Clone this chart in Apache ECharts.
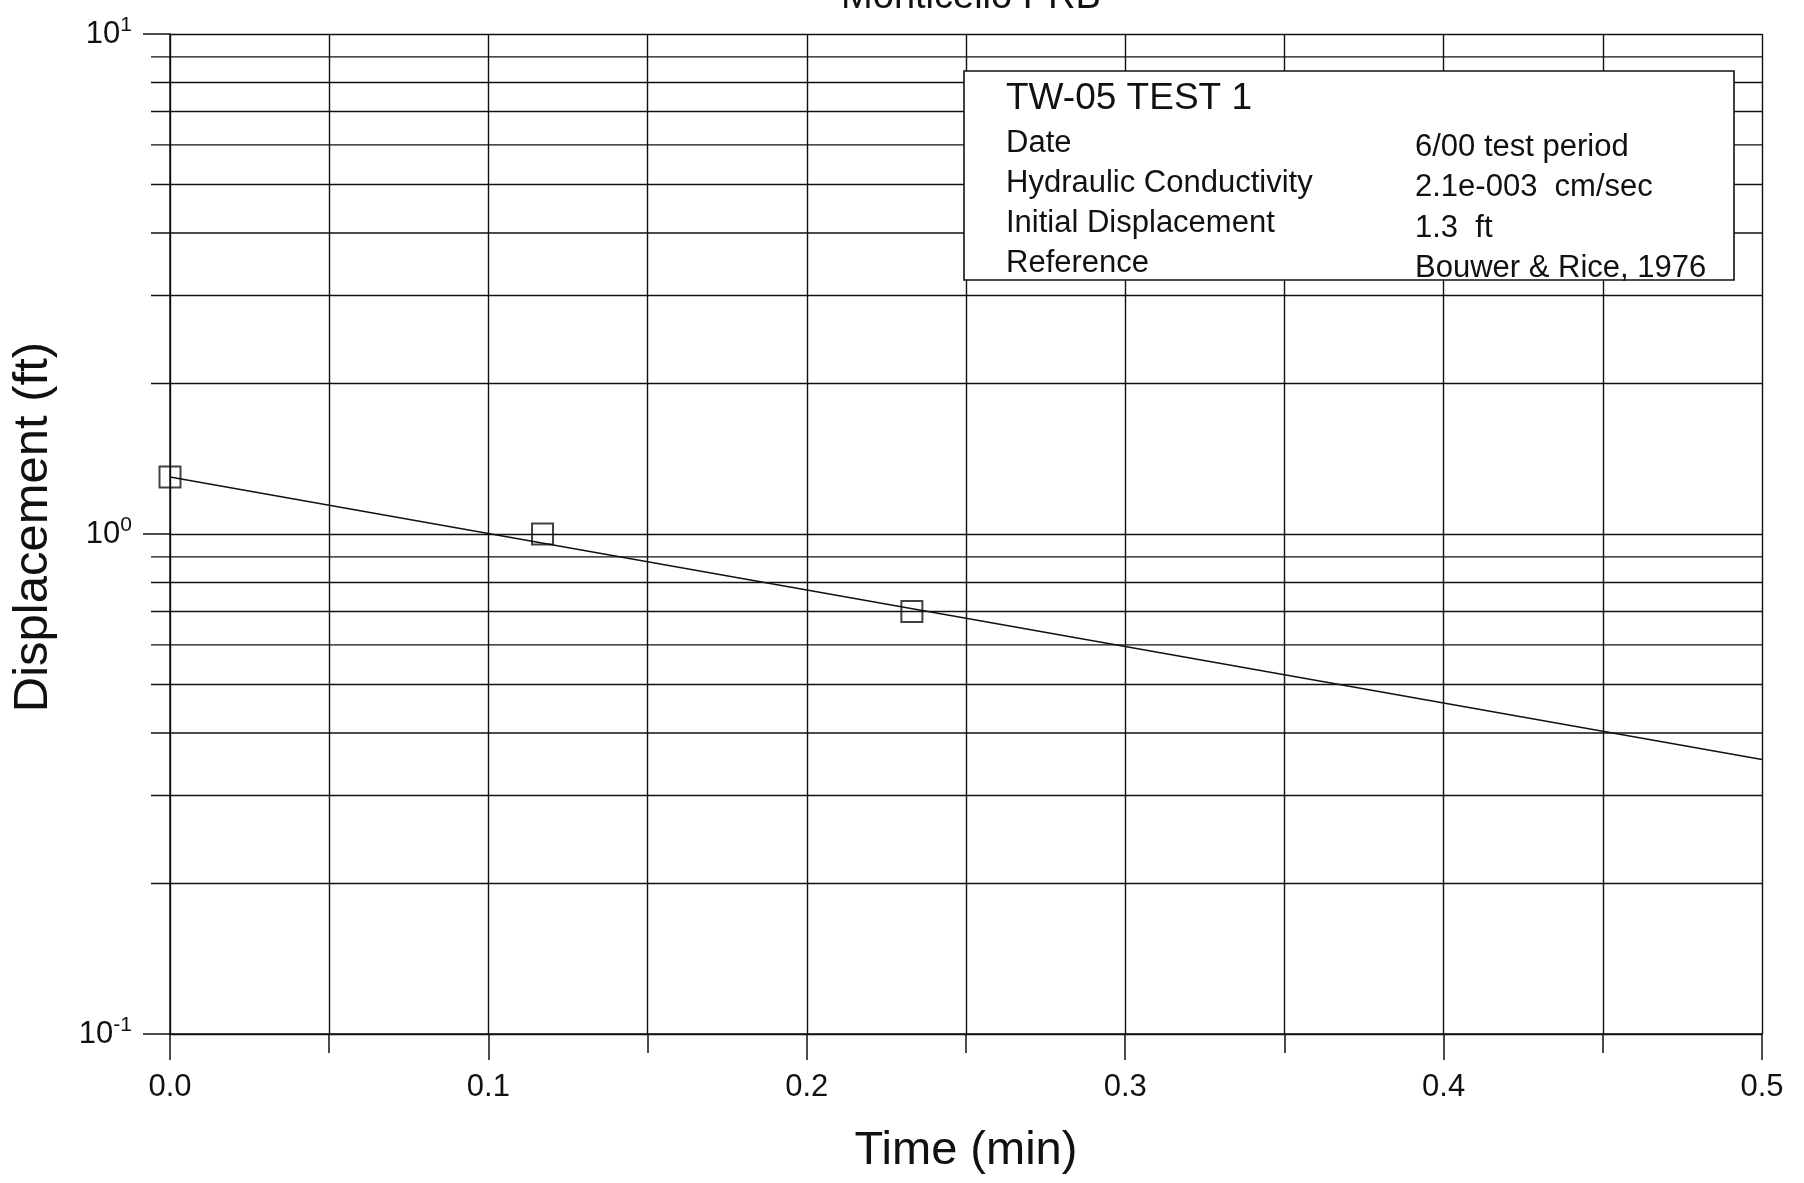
<!DOCTYPE html>
<html>
<head>
<meta charset="utf-8">
<title>TW-05 TEST 1 - Monticello PRB</title>
<script src="https://cdn.jsdelivr.net/npm/echarts@6/dist/echarts.min.js"></script>
<style>
  html, body { margin: 0; padding: 0; background: #fff; }
  #chart { width: 1804px; height: 1183px; }
</style>
</head>
<body>
<div id="chart"></div>
<script>
// Slug-test recovery: observed displacement vs. elapsed time
const timeMin = [0, 0.117, 0.233];
const displacementFt = [1.3, 1.0, 0.70];

// Bouwer & Rice straight-line fit (semi-log)
const fitTime = [0, 0.5];
const fitDisplacement = [1.3, 0.354];

// Intermediate log gridlines (2..9 within each decade)
const minorLevels = [0.2, 0.3, 0.4, 0.5, 0.6, 0.7, 0.8, 0.9, 2, 3, 4, 5, 6, 7, 8, 9];

// Info box rows
const infoTitle = 'TW-05 TEST 1';
const infoLabels = ['Date', 'Hydraulic Conductivity', 'Initial Displacement', 'Reference'];
const infoValues = ['6/00 test period', '2.1e-003  cm/sec', '1.3  ft', 'Bouwer & Rice, 1976'];

const FONT = "'Liberation Sans', Arial, sans-serif";
const INK = '#111';

const chart = echarts.init(document.getElementById('chart'));

const infoChildren = [
  { type: 'rect', z: 100, shape: { x: 0, y: 0, width: 770, height: 209 },
    style: { fill: '#fff', stroke: INK, lineWidth: 1.6 } },
  { type: 'text', z: 101, x: 42, y: 28,
    style: { text: infoTitle, font: '37px ' + FONT, fill: INK, textVerticalAlign: 'middle' } }
];
infoLabels.forEach((t, i) => {
  infoChildren.push({ type: 'text', z: 101, x: 42, y: 72.5 + i * 40,
    style: { text: t, font: '31px ' + FONT, fill: INK, textVerticalAlign: 'middle' } });
  infoChildren.push({ type: 'text', z: 101, x: 451, y: 76 + i * 40.5,
    style: { text: infoValues[i], font: '31px ' + FONT, fill: INK, textVerticalAlign: 'middle' } });
});

chart.setOption({
  backgroundColor: '#fff',
  animation: false,
  title: {
    text: 'Monticello PRB',
    left: 966, textAlign: 'center', top: -26,
    textStyle: { fontFamily: FONT, fontSize: 38, fontWeight: 'normal', color: INK }
  },
  grid: { left: 170, right: 42, top: 34, bottom: 149 },
  xAxis: {
    type: 'value', min: 0, max: 0.5, interval: 0.1,
    name: 'Time (min)', nameLocation: 'middle', nameGap: 94,
    nameTextStyle: { fontFamily: FONT, fontSize: 47, color: INK },
    axisLine: { show: true, lineStyle: { color: INK, width: 1.5 } },
    axisTick: { show: true, inside: false, length: 26, lineStyle: { color: INK, width: 1.5 } },
    minorTick: { show: true, splitNumber: 2, length: 19, lineStyle: { color: INK, width: 1.5 } },
    splitLine: { show: true, lineStyle: { color: INK, width: 1.4 } },
    minorSplitLine: { show: true, lineStyle: { color: INK, width: 1.4 } },
    axisLabel: { margin: 38, fontFamily: FONT, fontSize: 31, color: INK,
      formatter: v => v.toFixed(1) }
  },
  yAxis: {
    type: 'log', logBase: 10, min: 0.1, max: 10,
    name: 'Displacement (ft)', nameLocation: 'middle', nameGap: 112,
    nameTextStyle: { fontFamily: FONT, fontSize: 49, color: INK, padding: [0, 0, 0, 14] },
    axisLine: { show: true, lineStyle: { color: INK, width: 1.5 } },
    axisTick: { show: true, inside: false, length: 27, lineStyle: { color: INK, width: 1.5 } },
    splitLine: { show: true, lineStyle: { color: INK, width: 1.4 } },
    axisLabel: {
      margin: 38, fontFamily: FONT, fontSize: 31, color: INK,
      formatter: v => '10{s|' + Math.round(Math.log10(v)) + '}',
      rich: { s: { fontFamily: FONT, fontSize: 21, color: INK, verticalAlign: 'top', padding: [0, 0, 18, 0] } }
    }
  },
  series: [
    {
      name: 'minor grid',
      type: 'custom',
      silent: true,
      z: 1,
      data: minorLevels.map(v => [0, v]),
      renderItem: (params, api) => {
        const cs = params.coordSys;
        const y = api.coord([0, api.value(1)])[1];
        return {
          type: 'line',
          shape: { x1: cs.x - 19, y1: y, x2: cs.x + cs.width, y2: y },
          style: { stroke: INK, lineWidth: 1.4 }
        };
      }
    },
    {
      name: 'Fit',
      type: 'line',
      z: 3,
      data: fitTime.map((t, i) => [t, fitDisplacement[i]]),
      showSymbol: false,
      lineStyle: { color: INK, width: 1.4 }
    },
    {
      name: 'Observed',
      type: 'scatter',
      z: 4,
      data: timeMin.map((t, i) => [t, displacementFt[i]]),
      symbol: 'rect',
      symbolSize: 21,
      itemStyle: { color: 'rgba(255,255,255,0)', borderColor: INK, borderWidth: 2 }
    }
  ],
  graphic: [
    { type: 'group', x: 964, y: 71, z: 100, children: infoChildren }
  ]
});
</script>
</body>
</html>
